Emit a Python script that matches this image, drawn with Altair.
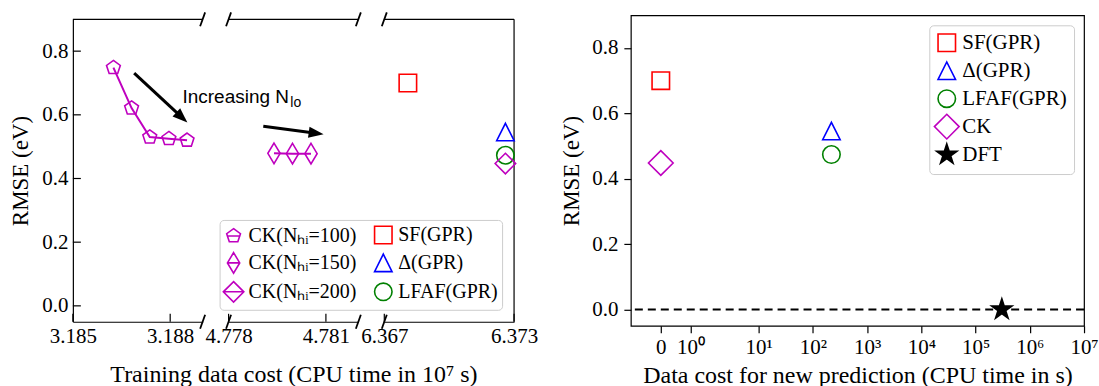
import math
import altair as alt
import pandas as pd

SERIF = "Liberation Serif"
SANS = "Liberation Sans"

# ---------------- data ----------------
# left figure, panel A : CK(N_hi=100)
ck100_cost = [3.18625, 3.18681, 3.18737, 3.18796, 3.18852]
ck100_rmse = [0.748, 0.621, 0.530, 0.525, 0.520]
# panel B : CK(N_hi=150)
ck150_cost = [4.77940, 4.77997, 4.78054]
ck150_rmse = [0.479, 0.478, 0.478]
# panel C : single-fidelity / delta / LFAF GPR and CK(N_hi=200)
sf_cost, sf_rmse = [6.36809], [0.700]
delta_cost, delta_rmse = [6.37260], [0.546]
lfaf_cost, lfaf_rmse = [6.37260], [0.473]
ck200_cost, ck200_rmse = [6.37260], [0.447]

left_legend_names = ["CK(Nₕᵢ=100)", "CK(Nₕᵢ=150)", "CK(Nₕᵢ=200)",
                     "SF(GPR)", "Δ(GPR)", "LFAF(GPR)"]

# arrow / text annotations (data coordinates)
arrow_panel = ["A", "B"]
arrow_x0 = [3.18689, 4.77907]
arrow_y0 = [0.731, 0.564]
arrow_x1 = [3.18836, 4.78070]
arrow_y1 = [0.592, 0.542]
arrow_angle = [132.8, 97.9]
note_x, note_y = [3.18838], [0.637]

# tick values
ticks_A = [3.185, 3.188]
ticks_B = [4.778, 4.781]
ticks_C = [6.367, 6.373]
ticks_y = [0.0, 0.2, 0.4, 0.6, 0.8]

# right figure
new_names = ["SF(GPR)", "Δ(GPR)", "LFAF(GPR)", "CK", "DFT"]
new_cost = [0, 220, 220, 0, 305000]
new_rmse = [0.700, 0.546, 0.474, 0.448, 0.0]
dft_level = [0.0]
right_tick_exp = [-1, 0, 1, 2, 3, 4, 5, 6, 7]   # -1 stands for the "0" tick

# ---------------- styles ----------------
MAGENTA, RED, BLUE, GREEN = "#bf00bf", "#ff0000", "#0000ff", "#008000"
W_L, H_L = 130, 303
W_R, H_R = 454, 311
MS = 17.5
CK_S = 0.83
SW = 1.6


def poly(pts):
    return "M" + "L".join(f"{x:.3f},{y:.3f}" for x, y in pts) + "Z"


def pentagon(s=1.0):
    return poly([(s * math.sin(2 * math.pi * k / 5), -s * math.cos(2 * math.pi * k / 5)) for k in range(5)])


def diamond(s=1.0, wf=1.0):
    r = 1.414 * s
    return poly([(0, -r), (r * wf, 0), (0, r), (-r * wf, 0)])


def star(s=1.0):
    pts = []
    for k in range(10):
        r = s if k % 2 == 0 else s * 0.382
        a = math.pi * k / 5
        pts.append((r * math.sin(a), -r * math.cos(a)))
    return poly(pts)


def hline(w):
    return f"M{-w:.3f},0L{w:.3f},0"


SQUARE = poly([(-1, -1), (1, -1), (1, 1), (-1, 1)])
TRIANGLE = poly([(0, -1), (1, 1), (-1, 1)])
PENT = pentagon(CK_S)
THIN_D = diamond(CK_S, 0.6)
DIAM_S = diamond(CK_S)
DIAM = diamond(1.0)
STAR = star(1.22)
HEAD = poly([(0, -1), (0.75, 1), (-0.75, 1)])

y_sc = alt.Scale(domain=[-0.05, 0.9], nice=False, zero=False)
one = pd.DataFrame({"k": [0]})


def xs(lo, hi):
    return alt.Scale(domain=[lo, hi], nice=False, zero=False)


def x_axis(vals, title):
    return alt.Axis(values=vals, format=".3f", ticks=False, labelFlush=False, labelOverlap=False,
                    labelPadding=4, title=title, titlePadding=16, grid=False, domain=True,
                    domainColor="black", domainWidth=1.2, labelFont=SERIF, labelFontSize=21,
                    labelColor="black", titleFont=SERIF, titleFontSize=24,
                    titleFontWeight="normal", titleColor="black")


y_axis_A = alt.Axis(values=ticks_y, format=".1f", ticks=False, labelPadding=5, title="RMSE (eV)",
                    titlePadding=9, grid=False, domain=True, domainColor="black", domainWidth=1.2,
                    labelFont=SERIF, labelFontSize=21, labelColor="black", titleFont=SERIF,
                    titleFontSize=23, titleFontWeight="normal", titleColor="black")


def frame_layers(edges, right_spine=False):
    layers = [alt.Chart(one).mark_rule(color="black", strokeWidth=1.2).encode(
        x=alt.value(0), x2=alt.value(W_L), y=alt.value(0))]
    if right_spine:
        layers.append(alt.Chart(one).mark_rule(color="black", strokeWidth=1.2).encode(
            x=alt.value(W_L), y=alt.value(0), y2=alt.value(H_L)))
    for e in edges:
        for yy in (0, H_L):
            layers.append(alt.Chart(one).mark_rule(color="black", strokeWidth=1.8).encode(
                x=alt.value(e - 2.5), x2=alt.value(e + 2.5), y=alt.value(yy + 7), y2=alt.value(yy - 7)))
    return layers


def tick_layer(vals, scale, axis):
    return alt.Chart(pd.DataFrame({"t": vals})).mark_rule(color="black", strokeWidth=1.2).encode(
        x=alt.X("t:Q", scale=scale, axis=axis), y=alt.value(H_L), y2=alt.value(H_L - 8))


def pts(df_x, df_y, scale, axis, yaxis, shape, color, size):
    d = pd.DataFrame({"cost": df_x, "rmse": df_y})
    return alt.Chart(d).mark_point(shape=shape, size=size, color=color, strokeWidth=SW,
                                   filled=False, opacity=1).encode(
        x=alt.X("cost:Q", scale=scale, axis=axis), y=alt.Y("rmse:Q", scale=y_sc, axis=yaxis))


def line(df_x, df_y, scale, axis, yaxis):
    d = pd.DataFrame({"cost": df_x, "rmse": df_y})
    return alt.Chart(d).mark_line(color=MAGENTA, strokeWidth=2).encode(
        x=alt.X("cost:Q", scale=scale, axis=axis), y=alt.Y("rmse:Q", scale=y_sc, axis=yaxis))


arrows = pd.DataFrame({"panel": arrow_panel, "x0": arrow_x0, "y0": arrow_y0,
                       "x1": arrow_x1, "y1": arrow_y1, "ang": arrow_angle})


def arrow_layers(panel, scale, axis, yaxis):
    d = arrows[arrows.panel == panel]
    shaft = alt.Chart(d).mark_rule(color="black", strokeWidth=3).encode(
        x=alt.X("x0:Q", scale=scale, axis=axis), x2="x1:Q",
        y=alt.Y("y0:Q", scale=y_sc, axis=yaxis), y2="y1:Q")
    head = alt.Chart(d).mark_point(shape=HEAD, size=225, filled=True, color="black", opacity=1).encode(
        x=alt.X("x1:Q", scale=scale, axis=axis), y=alt.Y("y1:Q", scale=y_sc, axis=yaxis),
        angle=alt.Angle("ang:Q", scale=None))
    return [shaft, head]


# ---------------- panel A ----------------
sA = xs(3.185, 3.189)
axA = x_axis(ticks_A, None)
ytickA = alt.Chart(pd.DataFrame({"v": ticks_y})).mark_rule(color="black", strokeWidth=1.2).encode(
    y=alt.Y("v:Q", scale=y_sc, axis=y_axis_A), x=alt.value(0), x2=alt.value(8))
note = pd.DataFrame({"x": note_x, "y": note_y, "t": ["Increasing N"], "s": ["lo"]})
noteA = alt.Chart(note).mark_text(align="left", baseline="alphabetic", font=SANS, fontSize=19,
                                  color="black").encode(
    x=alt.X("x:Q", scale=sA, axis=axA), y=alt.Y("y:Q", scale=y_sc, axis=y_axis_A), text="t:N")
noteB = alt.Chart(note).mark_text(align="left", baseline="alphabetic", font=SANS, fontSize=14,
                                  color="black", dx=108, dy=4).encode(
    x=alt.X("x:Q", scale=sA, axis=axA), y=alt.Y("y:Q", scale=y_sc, axis=y_axis_A), text="s:N")
panelA = alt.layer(
    *frame_layers([W_L]),
    tick_layer(ticks_A, sA, axA), ytickA,
    line(ck100_cost, ck100_rmse, sA, axA, y_axis_A),
    pts(ck100_cost, ck100_rmse, sA, axA, y_axis_A, PENT, MAGENTA, MS ** 2),
    *arrow_layers("A", sA, axA, y_axis_A), noteA, noteB,
).properties(width=W_L, height=H_L)

# ---------------- panel B ----------------
sB = xs(4.778, 4.782)
axB = x_axis(ticks_B, "Training data cost (CPU time in 10⁷ s)")
panelB = alt.layer(
    *frame_layers([0, W_L]),
    tick_layer(ticks_B, sB, axB),
    line(ck150_cost, ck150_rmse, sB, axB, None),
    pts(ck150_cost, ck150_rmse, sB, axB, None, THIN_D, MAGENTA, MS ** 2),
    *arrow_layers("B", sB, axB, None),
).properties(width=W_L, height=H_L)

# ---------------- panel C ----------------
sC = xs(6.367, 6.373)
axC = x_axis(ticks_C, None)
legL = alt.Legend(orient="none", legendX=-165, legendY=201, columns=2, columnPadding=14,
                  rowPadding=1, padding=4, fillColor="white", strokeColor="#cccccc",
                  cornerRadius=4, labelFont=SERIF, labelFontSize=20, labelColor="black",
                  symbolSize=MS ** 2, symbolStrokeWidth=SW, symbolOpacity=1, title=None,
                  labelOffset=5, gridAlign="all")
left_colors = [MAGENTA, MAGENTA, MAGENTA, RED, BLUE, GREEN]
left_shapes = [hline(0.95 * CK_S) + PENT, hline(0.85 * CK_S) + THIN_D,
               hline(1.414 * CK_S) + DIAM_S, SQUARE, TRIANGLE, "circle"]
legend_layer = alt.Chart(pd.DataFrame({"name": left_legend_names})).mark_point(
    filled=False, strokeWidth=SW).encode(
    x=alt.value(0), y=alt.value(0), opacity=alt.value(0),
    color=alt.Color("name:N", scale=alt.Scale(domain=left_legend_names, range=left_colors), legend=legL),
    shape=alt.Shape("name:N", scale=alt.Scale(domain=left_legend_names, range=left_shapes), legend=legL))
panelC = alt.layer(
    *frame_layers([0], right_spine=True),
    tick_layer(ticks_C, sC, axC),
    pts(sf_cost, sf_rmse, sC, axC, None, SQUARE, RED, MS ** 2),
    pts(delta_cost, delta_rmse, sC, axC, None, TRIANGLE, BLUE, MS ** 2),
    pts(lfaf_cost, lfaf_rmse, sC, axC, None, "circle", GREEN, MS ** 2),
    pts(ck200_cost, ck200_rmse, sC, axC, None, DIAM_S, MAGENTA, MS ** 2),
    legend_layer,
).properties(width=W_L, height=H_L)

# empty spacer between the two figures
spacer = alt.Chart(one).mark_point(opacity=0).encode(
    x=alt.value(0), y=alt.value(0)).properties(width=65, height=H_L)

# ---------------- right figure ----------------
dfR = pd.DataFrame({"name": new_names, "cost": new_cost, "rmse": new_rmse})
sup = "['⁰','¹','²','³','⁴','⁵','⁶','⁷']"
x_axis_R = alt.Axis(values=right_tick_exp, labelExpr=f"datum.value < 0 ? '0' : '10' + {sup}[datum.value]",
                    tickSize=7, ticks=True, tickColor="black", tickWidth=1.2, domain=False,
                    labelFlush=False, labelOverlap=False, labelPadding=4, grid=False,
                    title="Data cost for new prediction (CPU time in s)", titlePadding=6,
                    labelFont=SERIF, labelFontSize=21, labelColor="black", titleFont=SERIF,
                    titleFontSize=24, titleFontWeight="normal", titleColor="black")
y_axis_R = alt.Axis(values=ticks_y, format=".1f", tickSize=7, ticks=True, tickColor="black",
                    tickWidth=1.2, domain=False, labelPadding=6, grid=False, title="RMSE (eV)",
                    titlePadding=8, labelFont=SERIF, labelFontSize=21, labelColor="black",
                    titleFont=SERIF, titleFontSize=23, titleFontWeight="normal", titleColor="black")
sR = alt.Scale(domain=[-2, -1, 0, 1, 7], range=[0, 30, 59.7, 128, W_R], nice=False, zero=False)
legR = alt.Legend(orient="none", legendX=299, legendY=10, columns=1, rowPadding=-5, padding=7,
                  fillColor="white", strokeColor="#cccccc", cornerRadius=4, labelFont=SERIF,
                  labelFontSize=21, labelColor="black", symbolSize=MS ** 2, symbolStrokeWidth=SW,
                  symbolOpacity=1, title=None, labelOffset=5, gridAlign="all")
dft_rule = alt.Chart(pd.DataFrame({"rmse": dft_level})).mark_rule(
    color="black", strokeWidth=2, strokeDash=[8, 5]).encode(
    y=alt.Y("rmse:Q", scale=y_sc, axis=y_axis_R))
right_pts = alt.Chart(dfR).transform_calculate(
    xpos="datum.cost > 0 ? log(datum.cost) / LN10 : -1").mark_point(
    filled=False, strokeWidth=SW, opacity=1, size=MS ** 2).encode(
    x=alt.X("xpos:Q", scale=sR, axis=x_axis_R),
    y=alt.Y("rmse:Q", scale=y_sc, axis=y_axis_R),
    color=alt.Color("name:N", scale=alt.Scale(domain=new_names, range=[RED, BLUE, GREEN, MAGENTA, "black"]),
                    legend=legR),
    fill=alt.Fill("name:N", scale=alt.Scale(domain=new_names,
                                            range=["transparent"] * 4 + ["black"]), legend=legR),
    shape=alt.Shape("name:N", scale=alt.Scale(domain=new_names,
                                              range=[SQUARE, TRIANGLE, "circle", DIAM, STAR]), legend=legR))
right = alt.layer(dft_rule, right_pts).properties(
    width=W_R, height=H_R, view=alt.ViewBackground(stroke="black", strokeWidth=1.2))

chart = alt.hconcat(panelA, panelB, panelC, spacer, right, spacing=26, bounds="flush",
                    center=True).resolve_scale(
    color="independent", shape="independent", fill="independent").properties(
    padding={"left": 9, "top": 10, "right": 0, "bottom": 0},
    background="white").configure_view(stroke="transparent").configure_axis(labelFont=SERIF)

chart.save("out.html", embed_options={"renderer": "svg", "actions": False})
